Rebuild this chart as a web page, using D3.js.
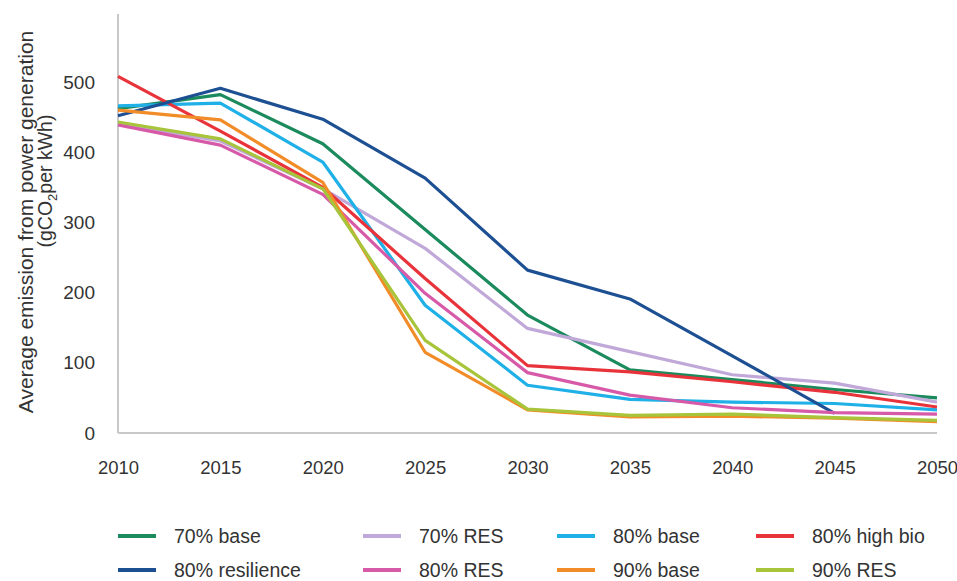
<!DOCTYPE html>
<head>
  <meta charset="utf-8">
  <script src="https://d3js.org/d3.v7.min.js"></script>
  <style>
  *{ margin:0; padding:0; }
  body{ background:#fff; font-family:'Liberation Sans', Arial, sans-serif; }
  text{ fill:#333; }
  </style>
</head>
<body>
  <svg id="viz"></svg>
  <script>
    // data
    let years = [2010, 2015, 2020, 2025, 2030, 2035, 2040, 2045, 2050];
    let names = ["70% base", "70% RES", "80% base", "80% high bio",
                 "80% resilience", "80% RES", "90% base", "90% RES"];
    let colors = ["#1b8a5c", "#c0a8d8", "#1eb0e6", "#e8333a",
                  "#1d4f93", "#d75aa9", "#f28c28", "#a7c43a"];

    let base70 =       [462, 482, 412, 290, 168, 90, 76, 62, 50];
    let res70 =        [440, 416, 348, 263, 149, 116, 83, 71, 44];
    let base80 =       [466, 470, 386, 182, 68, 48, 44, 42, 33];
    let highbio80 =    [508, 430, 350, 220, 96, 87, 73, 58, 37];
    let resilience80 = [452, 491, 447, 363, 232, 191, 110, 28, null];
    let res80 =        [439, 410, 340, 199, 86, 54, 36, 29, 27];
    let base90 =       [460, 446, 357, 115, 33, 23, 24, 21, 16];
    let res90 =        [443, 419, 348, 132, 34, 25, 27, 22, 18];

    let series = [base70, res70, base80, highbio80, resilience80, res80, base90, res90];
    let yTicks = [0, 100, 200, 300, 400, 500];

    let font = "'Liberation Sans', Arial, sans-serif";
    let svg = d3.select("svg").attr("width", 957).attr("height", 581);

    let x = d3.scaleLinear().domain([2010, 2050]).range([118, 937]);
    let y = d3.scaleLinear().domain([0, 500]).range([433, 82]);

    //axis lines
    svg.append("line").attr("x1", 118).attr("x2", 118).attr("y1", 14).attr("y2", y(0))
      .attr("stroke", "#c8c8c8").attr("stroke-width", 2);
    svg.append("line").attr("x1", 118).attr("x2", 937).attr("y1", y(0)).attr("y2", y(0))
      .attr("stroke", "#c8c8c8").attr("stroke-width", 2);

    //y ticks
    let yAxis = svg.append("g").attr("transform", "translate(118,0)")
      .call(d3.axisLeft(y).tickValues(yTicks).tickSize(0).tickPadding(23));
    yAxis.select(".domain").remove();
    yAxis.selectAll("text").attr("font-size", 19).attr("font-family", font).style("fill", "#333");

    //x ticks
    let xAxis = svg.append("g").attr("transform", "translate(0," + y(0) + ")")
      .call(d3.axisBottom(x).tickValues(years).tickFormat(d3.format("d")).tickSize(0).tickPadding(28));
    xAxis.select(".domain").remove();
    xAxis.selectAll("text").attr("font-size", 18.5).attr("font-family", font).style("fill", "#333");

    //y label
    svg.append("text").attr("transform", "translate(33,222) rotate(-90)")
      .attr("text-anchor", "middle").attr("font-size", 21)
      .text("Average emission from power generation");
    let lab2 = svg.append("text").attr("transform", "translate(52,181) rotate(-90)")
      .attr("text-anchor", "middle").attr("font-size", 19.5);
    lab2.append("tspan").text("(gCO");
    lab2.append("tspan").text("2").attr("font-size", 13).attr("dy", 5);
    lab2.append("tspan").text("per kWh)").attr("dy", -5);

    //lines
    let line = d3.line()
      .defined(d => d != null)
      .x((d, i) => x(years[i]))
      .y(d => y(d));

    svg.selectAll("path.series")
      .data(series)
      .enter()
      .append("path")
      .attr("class", "series")
      .attr("fill", "none")
      .attr("stroke", (d, i) => colors[i])
      .attr("stroke-width", 3.2)
      .attr("stroke-linejoin", "round")
      .attr("d", line);

    //legend
    let colX = [118, 363, 557, 756];
    let rowY = [536, 570];
    let leg = svg.selectAll("g.leg")
      .data(names)
      .enter()
      .append("g")
      .attr("class", "leg")
      .attr("transform", (d, i) => "translate(" + colX[i % 4] + "," + rowY[Math.floor(i / 4)] + ")");
    leg.append("line").attr("x1", 0).attr("x2", 38).attr("y1", 0).attr("y2", 0)
      .attr("stroke", (d, i) => colors[i]).attr("stroke-width", 4);
    leg.append("text").attr("x", 56).attr("y", 7).attr("font-size", 19.5)
      .attr("font-family", font).text(d => d);
  </script>
</body>
